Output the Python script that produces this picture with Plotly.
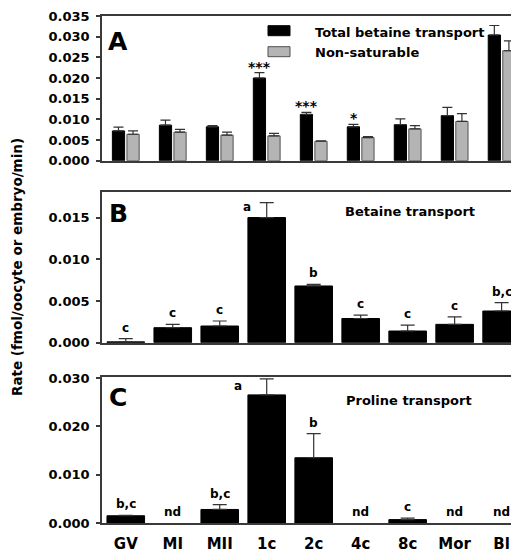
import plotly.graph_objects as go

# ---------------- data ----------------
stages = ["GV", "MI", "MII", "1c", "2c", "4c", "8c", "Mor", "Bl"]

total_betaine = [0.0072, 0.0086, 0.0082, 0.0200, 0.0112, 0.0082, 0.0087, 0.0109, 0.0304]
total_betaine_err = [0.0009, 0.0012, 0.0003, 0.0013, 0.0005, 0.0006, 0.0014, 0.0020, 0.0023]
nonsat = [0.0064, 0.0069, 0.0062, 0.0060, 0.0047, 0.0056, 0.0077, 0.0095, 0.0266]
nonsat_err = [0.0008, 0.0007, 0.0007, 0.0006, 0.0001, 0.0002, 0.0008, 0.0019, 0.0024]
sig_A = ["", "", "", "***", "***", "*", "", "", ""]

betaine = [0.0001, 0.0018, 0.0020, 0.0150, 0.0068, 0.0029, 0.0014, 0.0022, 0.0038]
betaine_err = [0.0004, 0.0004, 0.0006, 0.0018, 0.0002, 0.0004, 0.0007, 0.0009, 0.0010]
betaine_grp = ["c", "c", "c", "a", "b", "c", "c", "c", "b,c"]

proline = [0.0015, 0, 0.0028, 0.0265, 0.0135, 0, 0.0007, 0, 0]
proline_err = [0.0001, 0, 0.0010, 0.0033, 0.0050, 0, 0.0003, 0, 0]
proline_grp = ["b,c", "nd", "b,c", "a", "b", "nd", "c", "nd", "nd"]

ticks_A = [0.000, 0.005, 0.010, 0.015, 0.020, 0.025, 0.030, 0.035]
ticks_B = [0.000, 0.005, 0.010, 0.015]
ticks_C = [0.000, 0.010, 0.020, 0.030]

# ---------------- layout helpers ----------------
# the page body has an 8px margin, so the figure sits at (8, 8) in the window
OFF = 8
W, H = 519 - OFF, 553 - OFF
ML, MR, MT, MB = 102 - OFF, 0, 16 - OFF, 30
PW, PH = W - ML - MR, H - MT - MB


def px(x):
    """window pixel x -> paper x"""
    return (x - OFF - ML) / PW


def py(y):
    """window pixel y -> paper y"""
    return (H - MB - (y - OFF)) / PH


FONT = "DejaVu Sans, Verdana, sans-serif"
AXC = "#3a3a3a"
ERRC = "#333333"


def bold(size):
    return dict(family=FONT, size=size, color="black", weight="bold")


fig = go.Figure()

# Panel A
fig.add_trace(go.Bar(
    x=stages, y=total_betaine, name="Total betaine transport",
    width=0.26, offset=-0.285,
    marker=dict(color="black", line=dict(color="black", width=1)),
    error_y=dict(type="data", symmetric=False, array=total_betaine_err,
                 arrayminus=[0] * len(stages), color=ERRC, thickness=1.2, width=5),
    xaxis="x", yaxis="y", showlegend=False))
fig.add_trace(go.Bar(
    x=stages, y=nonsat, name="Non-saturable",
    width=0.26, offset=0.025,
    marker=dict(color="#b4b4b4", line=dict(color="#505050", width=1)),
    error_y=dict(type="data", symmetric=False, array=nonsat_err,
                 arrayminus=[0] * len(stages), color=ERRC, thickness=1.2, width=5),
    xaxis="x", yaxis="y", showlegend=False))

# Panel B
fig.add_trace(go.Bar(
    x=stages, y=betaine, name="Betaine transport", width=0.8,
    marker=dict(color="black", line=dict(color="black", width=1)),
    error_y=dict(type="data", symmetric=False, array=betaine_err,
                 arrayminus=[0] * len(stages), color=ERRC, thickness=1.2, width=7),
    xaxis="x2", yaxis="y2", showlegend=False))

# Panel C (nd = not detected: no bar, no error bar)
fig.add_trace(go.Bar(
    x=stages, y=[v if v > 0 else None for v in proline], name="Proline transport", width=0.8,
    marker=dict(color="black", line=dict(color="black", width=1)),
    error_y=dict(type="data", symmetric=False,
                 array=[e if e > 0 else None for e in proline_err],
                 arrayminus=[0 if e > 0 else None for e in proline_err],
                 color=ERRC, thickness=1.2, width=7),
    xaxis="x3", yaxis="y3", showlegend=False))

xr = [-0.506, 8.37]
xcommon = dict(type="category", range=xr, showline=True, linecolor=AXC, linewidth=1.5,
               mirror=True, ticks="", showgrid=False, zeroline=False,
               categoryorder="array", categoryarray=stages)
ycommon = dict(showline=True, linecolor=AXC, linewidth=1.5, ticks="outside", ticklen=4,
               tickwidth=1.5, tickcolor=AXC, showgrid=False, zeroline=False,
               tickformat=".3f", tickfont=bold(13), ticklabelstandoff=4)

fig.update_layout(
    width=W, height=H, margin=dict(l=ML, r=MR, t=MT, b=MB),
    paper_bgcolor="white", plot_bgcolor="white",
    barmode="overlay",
    xaxis=dict(xcommon, anchor="y", domain=[0, 1], showticklabels=False),
    xaxis2=dict(xcommon, anchor="y2", domain=[0, 1], showticklabels=False),
    xaxis3=dict(xcommon, anchor="y3", domain=[0, 1], showticklabels=True,
                tickfont=bold(15), ticklabelstandoff=6),
    yaxis=dict(ycommon, anchor="x", domain=[py(160.7), 1.0], range=[0, 0.035], tickvals=ticks_A),
    yaxis2=dict(ycommon, anchor="x2", domain=[py(342.7), py(191.7)], range=[0, 0.0181], tickvals=ticks_B),
    yaxis3=dict(ycommon, anchor="x3", domain=[0, py(377)], range=[0, 0.0302], tickvals=ticks_C),
)

ann = []


def paper_text(x, y, text, size, xanchor="center", angle=0):
    return dict(x=px(x), y=py(y), xref="paper", yref="paper", text=text, showarrow=False,
                xanchor=xanchor, yanchor="middle", textangle=angle, font=bold(size))


# panel letters
for letter, yy in [("A", 41.7), ("B", 213), ("C", 397)]:
    ann.append(paper_text(118, yy, letter, 25))
# y title
ann.append(paper_text(17, 267, "Rate (fmol/oocyte or embryo/min)", 13.5, angle=-90))
# panel titles
ann.append(paper_text(410, 211.7, "Betaine transport", 13))
ann.append(paper_text(409, 400, "Proline transport", 13))
# legend text
ann.append(paper_text(313, 32, "Total betaine transport", 13, xanchor="left"))
ann.append(paper_text(313, 52, "Non-saturable", 13, xanchor="left"))

# significance marks (panel A)
for s, v, e, t in zip(stages, total_betaine, total_betaine_err, sig_A):
    if t:
        ann.append(dict(x=s, y=v + e, xref="x", yref="y", text=t, showarrow=False,
                        xanchor="center", yanchor="bottom", xshift=-7, yshift=-4,
                        font=bold(14)))

# group letters panel B
for s, v, e, t in zip(stages, betaine, betaine_err, betaine_grp):
    xs, ys, ya = 0, 2, "bottom"
    if t == "a":
        xs, ys, ya = -20, -4, "middle"
    ann.append(dict(x=s, y=v + e, xref="x2", yref="y2", text=t, showarrow=False,
                    xanchor="center", yanchor=ya, xshift=xs, yshift=ys, font=bold(12)))

# group letters panel C
for s, v, e, t in zip(stages, proline, proline_err, proline_grp):
    xs, ys, ya = 0, 2, "bottom"
    if t == "a":
        xs, ys, ya = -29, -7, "middle"
    ann.append(dict(x=s, y=v + e, xref="x3", yref="y3", text=t, showarrow=False,
                    xanchor="center", yanchor=ya, xshift=xs, yshift=ys, font=bold(12)))

fig.update_layout(annotations=ann)

# legend swatches
fig.update_layout(shapes=[
    dict(type="rect", xref="paper", yref="paper", x0=px(268), x1=px(290), y0=py(35.7), y1=py(25.7),
         fillcolor="black", line=dict(color="black", width=1)),
    dict(type="rect", xref="paper", yref="paper", x0=px(268), x1=px(290), y0=py(56.7), y1=py(46.7),
         fillcolor="#b4b4b4", line=dict(color="#505050", width=1)),
])

fig.write_html("out.html")
